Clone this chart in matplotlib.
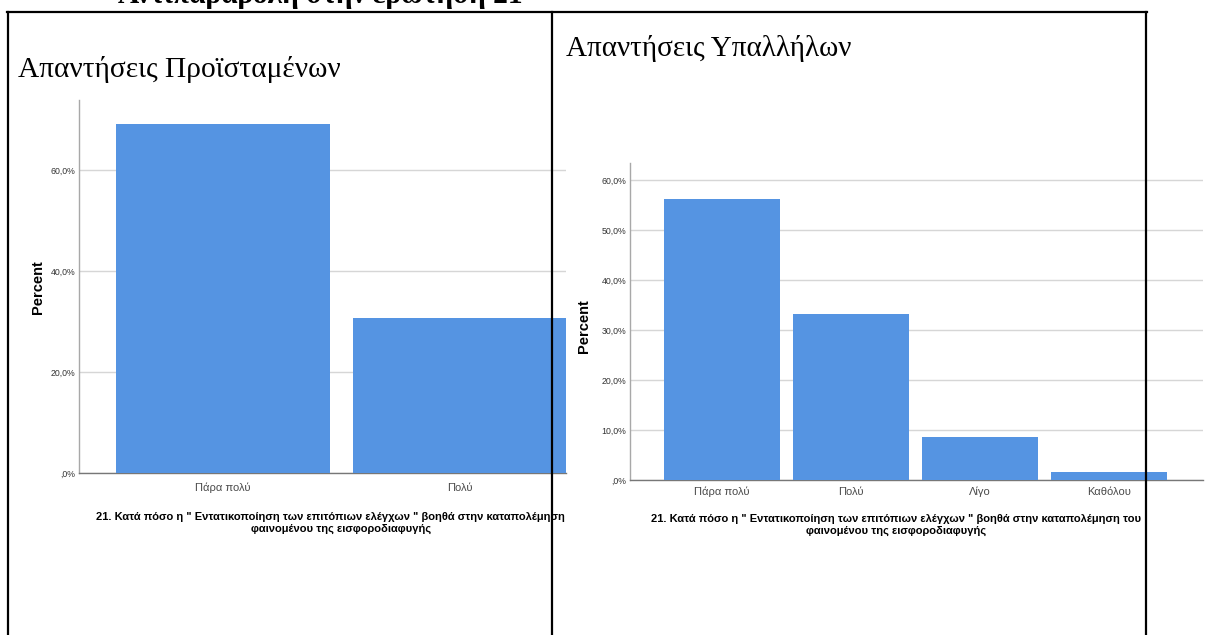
import matplotlib
matplotlib.use("Agg")
import matplotlib.pyplot as plt
from matplotlib.lines import Line2D
from matplotlib.transforms import Bbox, TransformedBbox
from matplotlib.ticker import FuncFormatter

# ── Data ──────────────────────────────────────────────────────────────────────

categories_left = ["Πάρα πολύ", "Πολύ"]
percent_left = [69.2, 30.8]
yticks_left = [0, 20, 40, 60]

categories_right = ["Πάρα πολύ", "Πολύ", "Λίγο", "Καθόλου"]
percent_right = [56.3, 33.3, 8.7, 1.6]
yticks_right = [0, 10, 20, 30, 40, 50, 60]

page_title = "Αντιπαραβολή στην ερώτηση 21"
title_left = "Απαντήσεις Προϊσταμένων"
title_right = "Απαντήσεις Υπαλλήλων"
question = ('21. Κατά πόσο η " Εντατικοποίηση των επιτόπιων ελέγχων " βοηθά στην καταπολέμηση του\n'
            'φαινομένου της εισφοροδιαφυγής')

# ── Style ─────────────────────────────────────────────────────────────────────

W, H = 1209, 635
BAR_COLOR = "#5594E2"
GRID_COLOR = "#d6d6d6"
SANS = ["Liberation Sans Narrow", "Liberation Sans", "DejaVu Sans"]
SERIF = ["Liberation Serif", "DejaVu Serif"]


def fx(x):
    return x / W


def fy(y):
    return 1 - y / H


def pct_fmt(v, _pos):
    s = f"{v:.1f}".replace(".", ",")
    if s.startswith("0,"):
        s = s[1:]
    return s + "%"


def spss_bars(ax, cats, vals, ticks, ymax, xlim):
    xs = list(range(len(cats)))
    ax.bar(xs, vals, width=0.9, color=BAR_COLOR, zorder=3)
    ax.set_xlim(*xlim)
    ax.set_ylim(0, ymax)
    ax.set_yticks(ticks)
    ax.yaxis.set_major_formatter(FuncFormatter(pct_fmt))
    ax.set_xticks(xs)
    ax.set_xticklabels(cats, family=SANS, fontsize=8, color="#4a4a4a")
    for lbl in ax.get_yticklabels():
        lbl.set_family(SANS)
        lbl.set_fontsize(6.3)
        lbl.set_color("#333333")
    ax.tick_params(axis="y", length=0, pad=2.5)
    ax.tick_params(axis="x", length=0, pad=7)
    ax.grid(axis="y", color=GRID_COLOR, linewidth=1.0, zorder=0)
    ax.set_axisbelow(True)
    for side in ("top", "right"):
        ax.spines[side].set_visible(False)
    ax.spines["left"].set_color("#a8a8a8")
    ax.spines["bottom"].set_color("#777777")
    ax.spines["left"].set_linewidth(1.0)
    ax.spines["bottom"].set_linewidth(1.0)


fig = plt.figure(figsize=(W / 100, H / 100), dpi=100)
fig.patch.set_facecolor("white")

# left chart (clipped at x=566 like the pasted picture)
axL = fig.add_axes([fx(79), fy(473), fx(566) - fx(79), fy(100) - fy(473)])
spss_bars(axL, categories_left, percent_left, yticks_left, 73.9, (-0.605, 1.445))

# right chart
axR = fig.add_axes([fx(630), fy(480), fx(1203) - fx(630), fy(163) - fy(480)])
spss_bars(axR, categories_right, percent_right, yticks_right, 63.4, (-0.713, 3.73))
axR.tick_params(axis="x", pad=5)

# y labels
fig.text(fx(38), fy(287), "Percent", rotation=90, ha="center", va="center",
         family=SANS, fontsize=10.5, fontweight="bold")
fig.text(fx(584), fy(326), "Percent", rotation=90, ha="center", va="center",
         family=SANS, fontsize=10.5, fontweight="bold")

# question texts under the charts
clip_left = TransformedBbox(Bbox.from_extents(0, 0, fx(566), 1), fig.transFigure)
tL = fig.text(fx(341), fy(523), question, ha="center", va="center",
              family=SANS, fontsize=8.0, fontweight="bold", linespacing=1.2)
tL.set_clip_box(clip_left)
tL.set_clip_on(True)
fig.text(fx(896), fy(525), question, ha="center", va="center",
         family=SANS, fontsize=8.0, fontweight="bold", linespacing=1.2)

# document titles
fig.text(fx(118), fy(3), page_title, ha="left", va="baseline",
         family=SERIF, fontsize=21.2, fontweight="bold")
fig.text(fx(18), fy(77), title_left, ha="left", va="baseline",
         family=SERIF, fontsize=21.2)
fig.text(fx(566), fy(56), title_right, ha="left", va="baseline",
         family=SERIF, fontsize=21)

# table borders of the document
border = dict(color="black", linewidth=1.6, transform=fig.transFigure, zorder=10)
fig.add_artist(Line2D([fx(7), fx(1147)], [fy(12), fy(12)], **border))
for x in (8, 552, 1146):
    fig.add_artist(Line2D([fx(x), fx(x)], [fy(12), fy(H + 2)], **border))

fig.savefig("out.png", dpi=100)
